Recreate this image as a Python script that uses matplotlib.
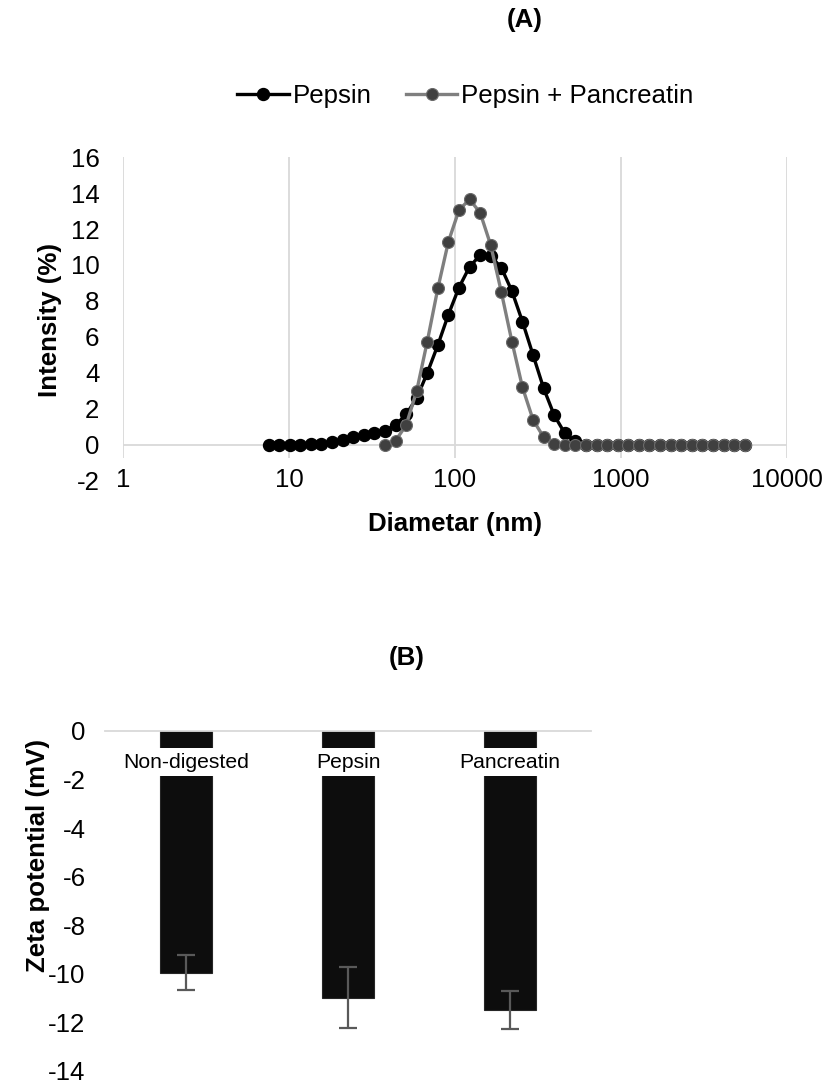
import numpy as np
import matplotlib
matplotlib.use('Agg')
import matplotlib.pyplot as plt
from matplotlib import font_manager

plt.rcParams['font.family'] = ['Liberation Sans', 'DejaVu Sans']
plt.rcParams['axes.unicode_minus'] = False

# ---------------- data (A) ----------------
diameter = [7.531, 8.721, 10.1, 11.7, 13.54, 15.69, 18.17, 21.04, 24.36, 28.21,
            32.67, 37.84, 43.82, 50.75, 58.77, 68.06, 78.82, 91.28, 105.7, 122.4,
            141.8, 164.2, 190.1, 220.2, 255.0, 295.3, 342.0, 396.1, 458.7, 531.2,
            615.1, 712.4, 825.0, 955.4, 1106, 1281, 1484, 1718, 1990, 2305,
            2669, 3091, 3580, 4145, 4801, 5560]
pepsin = [0, 0, 0, 0, 0.03, 0.08, 0.18, 0.28, 0.42, 0.55,
          0.65, 0.80, 1.1, 1.7, 2.6, 4.0, 5.55, 7.25, 8.75, 9.9,
          10.55, 10.5, 9.85, 8.55, 6.85, 5.0, 3.15, 1.65, 0.65, 0.2,
          0, 0, 0, 0, 0, 0, 0, 0, 0, 0,
          0, 0, 0, 0, 0, 0]
panc_start = 11  # Pepsin + Pancreatin series begins at 37.84 nm
pepsin_pancreatin = [0, 0.24, 1.1, 3.0, 5.75, 8.7, 11.3, 13.05, 13.65, 12.9,
                     11.1, 8.5, 5.75, 3.2, 1.4, 0.43, 0.05, 0, 0, 0,
                     0, 0, 0, 0, 0, 0, 0, 0, 0, 0,
                     0, 0, 0, 0, 0]
x_ticks_a = [1, 10, 100, 1000, 10000]
x_ticklabels_a = ['1', '10', '100', '1000', '10000']
y_ticks_a = [-2, 0, 2, 4, 6, 8, 10, 12, 14, 16]

# ---------------- data (B) ----------------
samples = ['Non-digested', 'Pepsin', 'Pancreatin']
zeta = [-9.95, -10.98, -11.48]
zeta_err = [0.71, 1.25, 0.78]
y_ticks_b = [0, -2, -4, -6, -8, -10, -12, -14]

FS = 18.6
GRID = '#d9d9d9'

names = {f.name for f in font_manager.fontManager.ttflist}
if 'Liberation Sans Narrow' in names:
    cat_family, cat_size = ['Liberation Sans Narrow'], FS
else:
    cat_family, cat_size = ['Liberation Sans'], 15.2

fig = plt.figure(figsize=(8.3, 10.87), dpi=100)

# ================= (A) =================
axA = fig.add_axes([123/830, 1-481/1087, 664/830, 324/1087])
axA.set_xscale('log')
axA.set_xlim(1, 10000)
axA.set_ylim(-2, 16)
for s in axA.spines.values():
    s.set_visible(False)
axA.vlines(x_ticks_a, -0.72, 16, color=GRID, lw=1.3, zorder=0.5)
axA.axhline(0, color=GRID, lw=1.3, zorder=0.5)

axA.plot(diameter, pepsin, color='black', lw=2.4, marker='o', ms=8.6,
         mfc='black', mec='black', label='Pepsin', zorder=3)
axA.plot(diameter[panc_start:], pepsin_pancreatin, color='#7f7f7f', lw=2.4,
         marker='o', ms=8.6, mfc='#404040', mec='#6a6a6a', mew=0.8,
         label='Pepsin + Pancreatin', zorder=4)

axA.set_xticks(x_ticks_a)
axA.set_xticklabels(x_ticklabels_a)
axA.xaxis.set_minor_locator(matplotlib.ticker.NullLocator())
axA.set_yticks(y_ticks_a)
axA.tick_params(axis='x', length=0, labelsize=FS, pad=-9.5)
axA.tick_params(axis='y', length=0, labelsize=FS, pad=17)
axA.set_xlabel('Diametar (nm)', fontsize=FS, fontweight='bold')
axA.xaxis.set_label_coords(0.5, -0.095)
fig.text(49.5/830, 1-320/1087, 'Intensity (%)', rotation=90, ha='center',
         va='center', fontsize=FS, fontweight='bold')
fig.text(525/830, 1-20/1087, '(A)', ha='center', va='center',
         fontsize=FS, fontweight='bold')
fig.legend(loc='center', bbox_to_anchor=(465.5/830, 1-96/1087), ncol=2,
           frameon=False, fontsize=FS, handlelength=1.98, handletextpad=0.15,
           columnspacing=1.35, borderaxespad=0, borderpad=0)

# ================= (B) =================
axB = fig.add_axes([105/830, 1-1071/1087, 486/830, 340/1087])
x = np.arange(len(samples))
axB.bar(x, zeta, width=0.32, color='#0d0d0d', edgecolor='#262626', lw=0.8,
        zorder=1)
axB.errorbar(x, zeta, yerr=zeta_err, fmt='none', ecolor='#595959',
             elinewidth=1.6, capsize=6.5, capthick=1.6, zorder=2)
axB.set_xlim(-0.5, len(samples)-0.5)
axB.set_ylim(-14, 0)
axB.set_yticks(y_ticks_b)
for k in ['left', 'right', 'top']:
    axB.spines[k].set_visible(False)
axB.spines['bottom'].set_position(('data', 0))
axB.spines['bottom'].set_color(GRID)
axB.spines['bottom'].set_linewidth(1.3)
axB.set_xticks(x)
axB.set_xticklabels(samples, family=cat_family)
axB.tick_params(axis='x', length=0, labelsize=cat_size, pad=15.5)
axB.tick_params(axis='y', length=0, labelsize=FS, pad=14)
for lbl in axB.get_xticklabels():
    lbl.set_bbox(dict(facecolor='white', edgecolor='none', pad=3.5))
fig.text(38/830, 1-855/1087, 'Zeta potential (mV)', rotation=90, ha='center',
         va='center', fontsize=FS, fontweight='bold')
fig.text(407/830, 1-658/1087, '(B)', ha='center', va='center',
         fontsize=FS, fontweight='bold')

fig.savefig('out.png', dpi=100)
